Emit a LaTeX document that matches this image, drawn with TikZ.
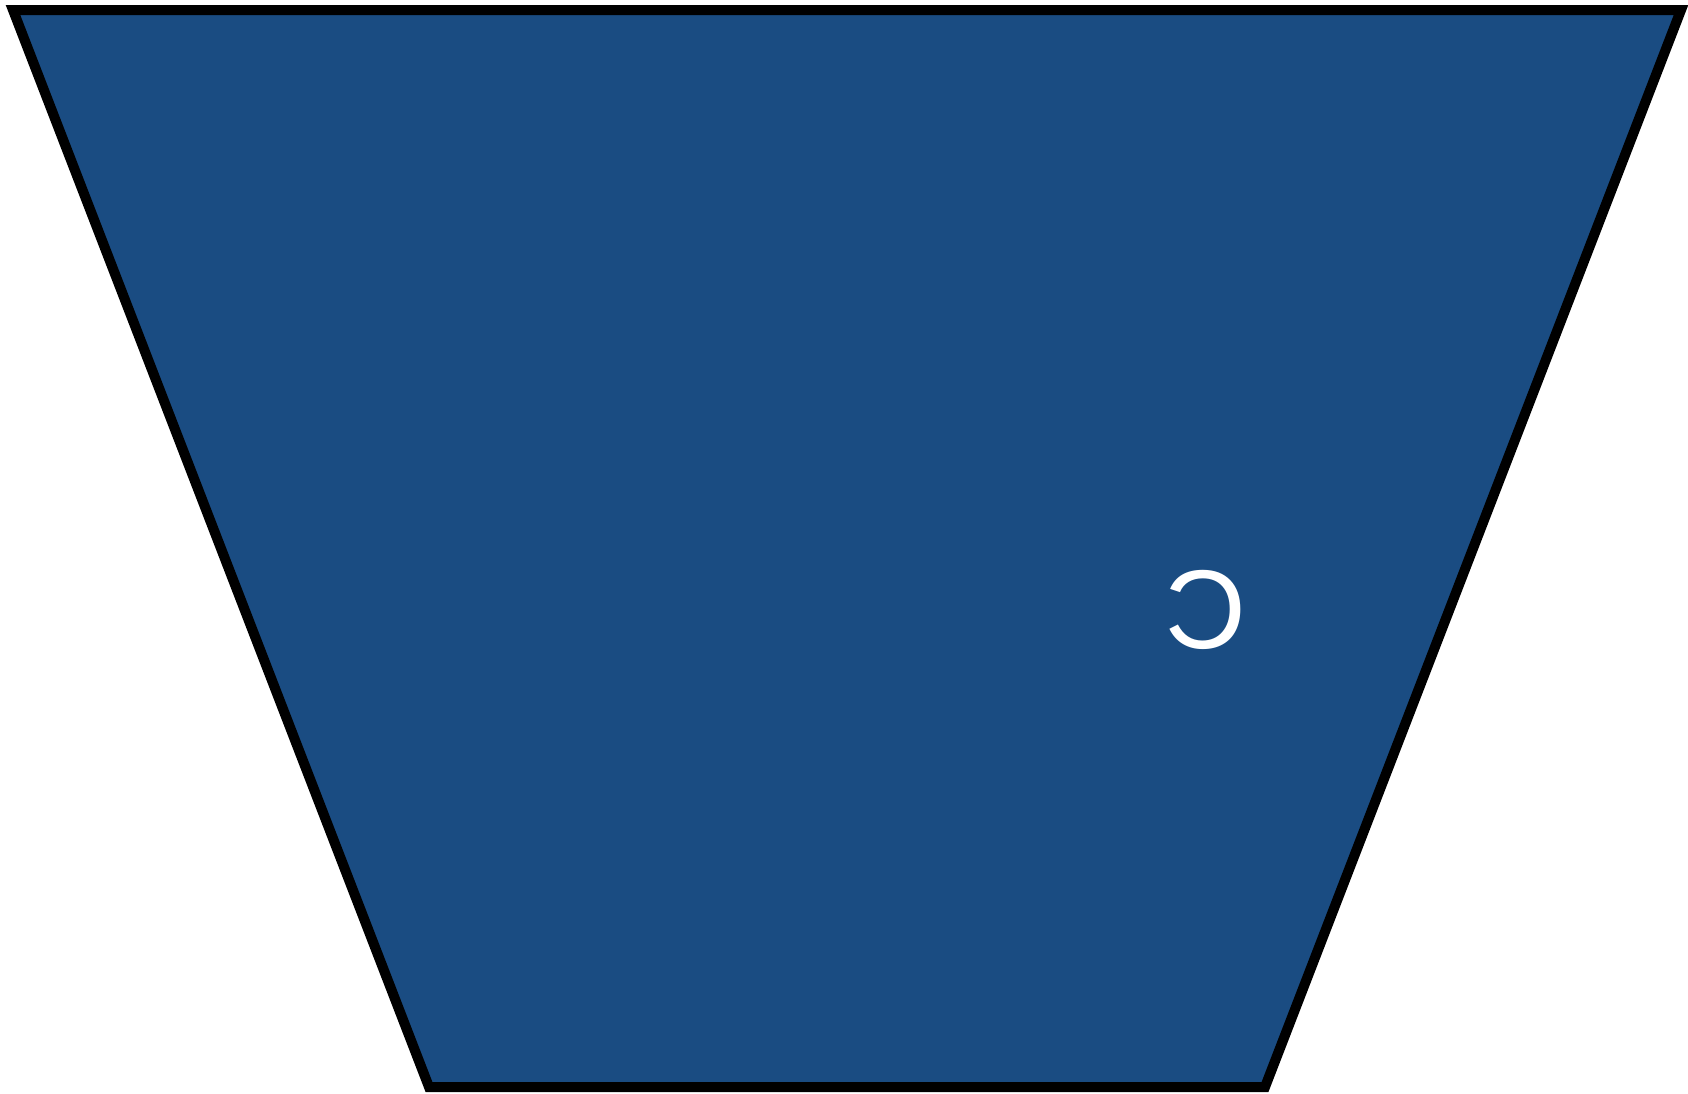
\documentclass[tikz,border=0pt]{standalone}
\usepackage{fontspec}
\setmainfont{Liberation Sans}
\definecolor{trapFill}{HTML}{1A4C82}
\definecolor{trapEdge}{HTML}{000000}
\definecolor{trapText}{HTML}{FFFFFF}

\begin{document}
\begin{tikzpicture}[
    x=1pt, y=-1pt,
    trap/.style={fill=trapFill, draw=trapEdge, line width=10pt, line join=miter},
    glyph/.style={text=trapText, font=\fontsize{112}{112}\selectfont, inner sep=0pt},
]

% page frame (image coordinates, y downwards)
\useasboundingbox (0,0) rectangle (1688,1093);

% ----------------------------------------------------------------------
% Corners of the trapezoid (wide side on top)
% ----------------------------------------------------------------------
\coordinate (tl) at (13,10);
\coordinate (tr) at (1681,10);
\coordinate (br) at (1265,1087);
\coordinate (bl) at (429,1087);

\draw[trap] (tl) -- (tr) -- (br) -- (bl) -- cycle;

% Mirrored letter on the right half
\node[glyph] (mark) at (1206,610) {\reflectbox{C}};

\end{tikzpicture}
\end{document}
